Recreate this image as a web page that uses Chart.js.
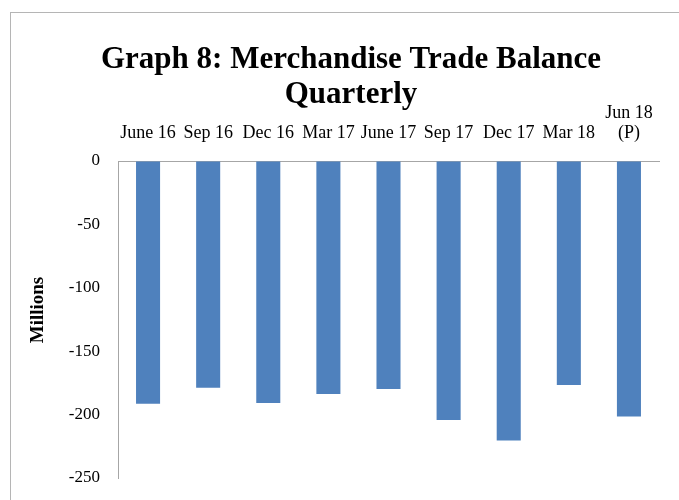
<!DOCTYPE html>
<html>
<head>
<meta charset="utf-8">
<script src="https://cdn.jsdelivr.net/npm/chart.js@4"></script>
<style>
  html, body { margin: 0; padding: 0; background: #fff; }
  body { width: 679px; height: 500px; position: relative; overflow: hidden; }
  #frame { position: absolute; left: 10px; top: 12px; width: 800px; height: 800px; border: 1px solid #b5b5b5; box-sizing: border-box; }
  #visu { position: absolute; left: 0; top: 0; }
</style>
</head>
<body>
<div id="frame"></div>
<canvas id="visu" width="679" height="500"></canvas>
<script>
// données
const quarters = ['June 16', 'Sep 16', 'Dec 16', 'Mar 17', 'June 17', 'Sep 17', 'Dec 17', 'Mar 18', ['Jun 18', '(P)']];
const balance = [-191.4, -178.8, -190.9, -183.8, -179.9, -204.3, -220.4, -176.7, -201.4];
const yTicks = [0, -50, -100, -150, -200, -250];

const serif = "'Liberation Serif', 'Times New Roman', serif";
const axisGrey = '#a6a6a6';

const data = {
    labels: quarters,
    datasets: [{
        label: 'Merchandise Trade Balance',
        data: balance,
        backgroundColor: '#4f81bd',
        borderWidth: 0,
        barPercentage: 0.4,
        categoryPercentage: 1
    }]
};

const config = {
    type: 'bar',
    data: data,
    options: {
        responsive: false,
        animation: false,
        layout: {
            padding: { left: 43, right: 20, top: 0, bottom: 22 }
        },
        scales: {
            x: {
                position: 'top',
                grid: { display: true, color: 'rgba(0,0,0,0)', drawTicks: false },
                border: { display: true, color: axisGrey, width: 1 },
                ticks: {
                    color: '#000',
                    font: { family: serif, size: 18, lineHeight: 1.1 },
                    padding: 18,
                    maxRotation: 0,
                    autoSkip: false
                },
                afterFit: scale => { scale.height = 61; }
            },
            y: {
                min: -250,
                max: 0,
                grid: { display: true, color: 'rgba(0,0,0,0)', drawTicks: false },
                border: { display: true, color: axisGrey, width: 1 },
                ticks: {
                    stepSize: 50,
                    color: '#000',
                    font: { family: serif, size: 17 },
                    padding: 18
                },
                afterBuildTicks: scale => {
                    scale.ticks = yTicks.map(v => ({ value: v }));
                },
                title: {
                    display: true,
                    text: '    Millions',
                    color: '#000',
                    font: { family: serif, size: 19, weight: 'bold' },
                    padding: { top: -16, bottom: 0 }
                },
                afterFit: scale => {
                    scale.width = 75;
                    scale.paddingBottom = 10; // le padding des ticks ne doit pas réduire la zone
                }
            }
        },
        plugins: {
            legend: { display: false },
            tooltip: { enabled: false },
            title: {
                display: true,
                text: ['Graph 8: Merchandise Trade Balance', 'Quarterly'],
                color: '#000',
                font: { family: serif, size: 31, weight: 'bold', lineHeight: '35px' },
                padding: { top: 42, bottom: -12 }
            }
        }
    }
};

const ctx = document.getElementById('visu').getContext('2d');
new Chart(ctx, config);
</script>
</body>
</html>
